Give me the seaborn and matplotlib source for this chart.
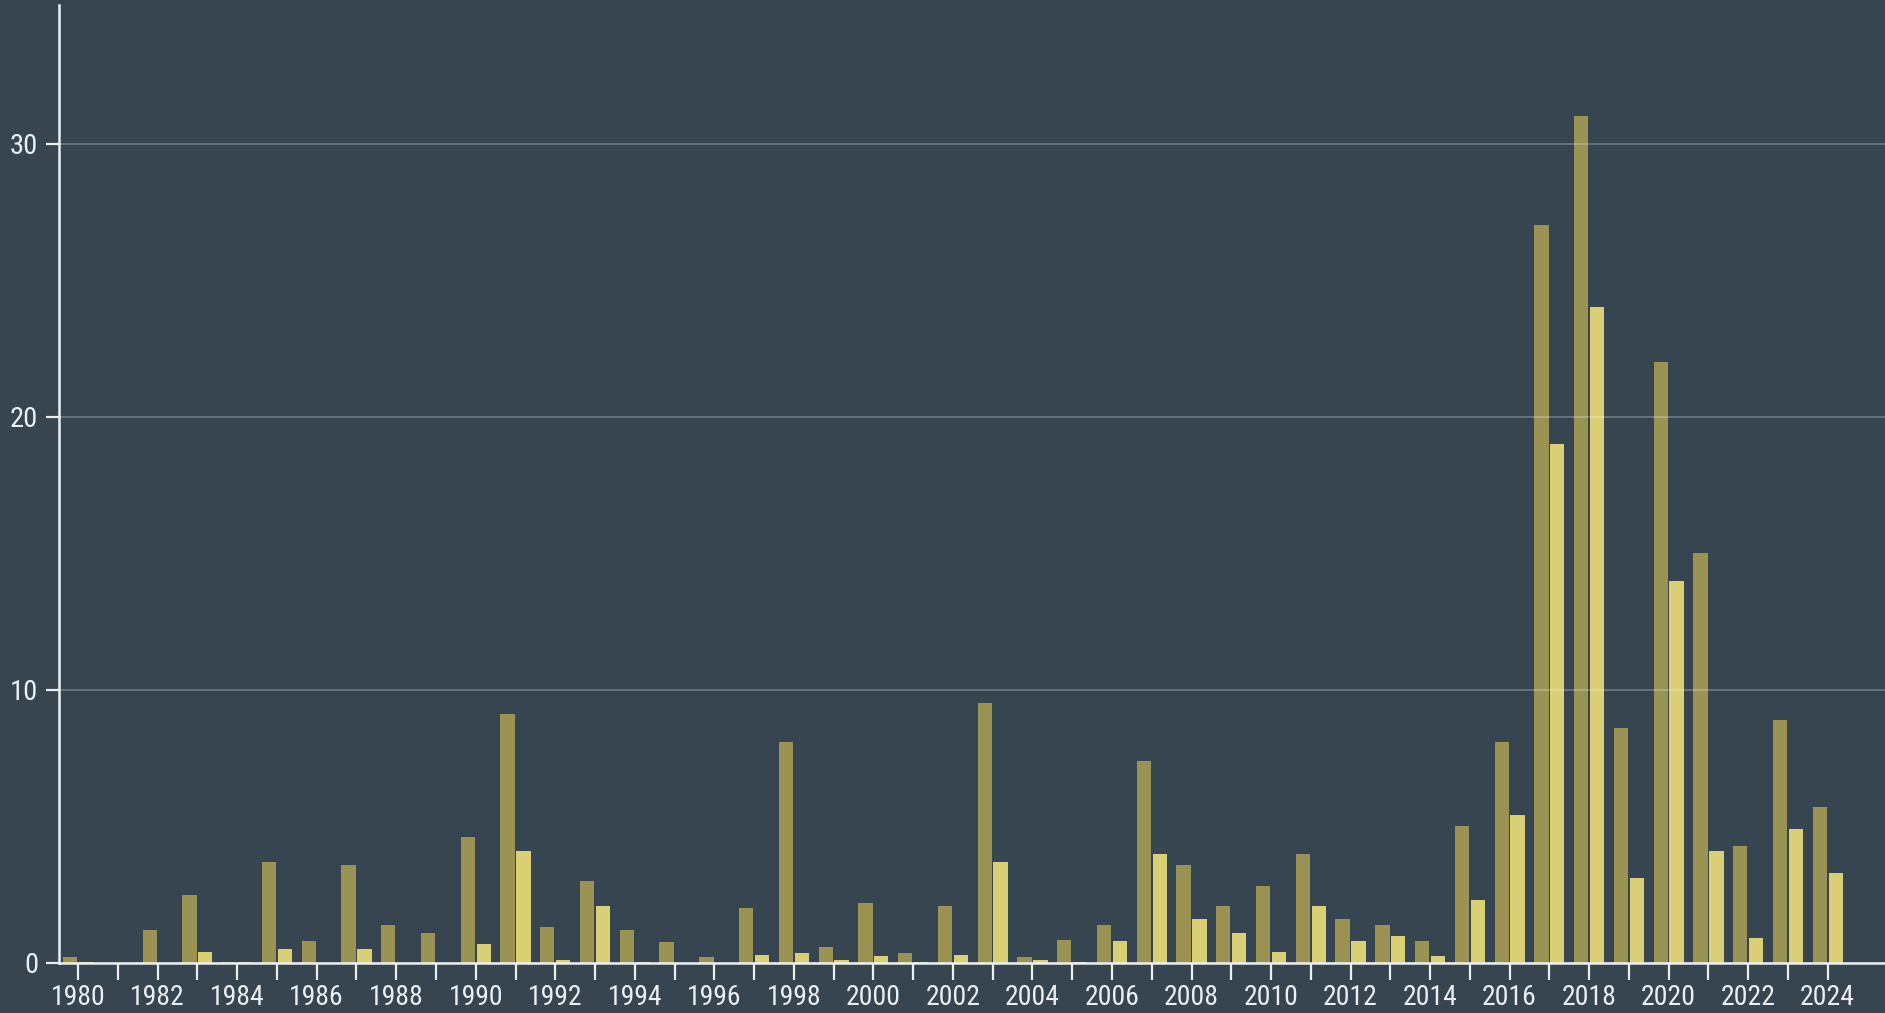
import pandas as pd
import seaborn as sns
import matplotlib.pyplot as plt

# data
years = list(range(1980, 2025))
series_a = [0.2, 0.0, 1.2, 2.5, 0.05, 3.7, 0.8, 3.6, 1.4, 1.1,
            4.6, 9.1, 1.3, 3.0, 1.2, 0.75, 0.2, 2.0, 8.1, 0.6,
            2.2, 0.35, 2.1, 9.5, 0.2, 0.85, 1.4, 7.4, 3.6, 2.1,
            2.8, 4.0, 1.6, 1.4, 0.8, 5.0, 8.1, 27.0, 31.0, 8.6,
            22.0, 15.0, 4.3, 8.9, 5.7]
series_b = [0.05, 0.0, 0.0, 0.4, 0.05, 0.5, 0.0, 0.5, 0.0, 0.0,
            0.7, 4.1, 0.1, 2.1, 0.05, 0.0, 0.0, 0.3, 0.35, 0.1,
            0.25, 0.05, 0.3, 3.7, 0.1, 0.05, 0.8, 4.0, 1.6, 1.1,
            0.4, 2.1, 0.8, 1.0, 0.25, 2.3, 5.4, 19.0, 24.0, 3.1,
            14.0, 4.1, 0.9, 4.9, 3.3]
y_ticks = [0, 10, 20, 30]
series_names = ["A", "B"]
colors = {"A": "#9a9354", "B": "#d9cf74"}

bg = "#374550"
fg = "#eceff1"

df = pd.DataFrame({
    "year": years * 2,
    "value": series_a + series_b,
    "series": [series_names[0]] * len(years) + [series_names[1]] * len(years),
})

sns.set_style("dark")
plt.rcParams["font.family"] = ["Liberation Sans Narrow", "DejaVu Sans Condensed",
                               "Roboto Condensed", "DejaVu Sans"]

fig = plt.figure(figsize=(18.85, 10.13), dpi=100, facecolor=bg)
ax = fig.add_axes([0.0313, 0.0494, 0.9687, 0.9456])
ax.set_facecolor(bg)

sns.barplot(data=df, x="year", y="value", hue="series", order=years,
            hue_order=series_names, palette=colors, width=0.8, gap=0.1,
            linewidth=0, saturation=1, legend=False, ax=ax)

ax.set_xlim(-0.48, 45.44)
ax.set_ylim(0, 35.07)

ax.set_xticks(range(len(years)))
ax.set_xticklabels([str(y) if y % 2 == 0 else "" for y in years])
ax.set_yticks(y_ticks)
ax.set_yticklabels([str(v) for v in y_ticks])

ax.tick_params(axis="x", length=12.5, width=1.6, color=fg, pad=2.5,
               labelsize=20, labelcolor=fg, direction="out", bottom=True)
ax.tick_params(axis="y", length=9.5, width=1.6, color=fg, pad=5.5,
               labelsize=20.5, labelcolor=fg, direction="out", left=True)

# grid above the bars
ax.set_axisbelow(False)
ax.yaxis.grid(True, color="white", alpha=0.3, linewidth=1.1)
ax.xaxis.grid(False)

for side in ["top", "right"]:
    ax.spines[side].set_visible(False)
for side in ["left", "bottom"]:
    ax.spines[side].set_visible(True)
    ax.spines[side].set_color(fg)
    ax.spines[side].set_linewidth(1.8)
    ax.spines[side].set_zorder(5)

ax.set_xlabel("")
ax.set_ylabel("")

fig.savefig("out.png", dpi=100, facecolor=bg)
